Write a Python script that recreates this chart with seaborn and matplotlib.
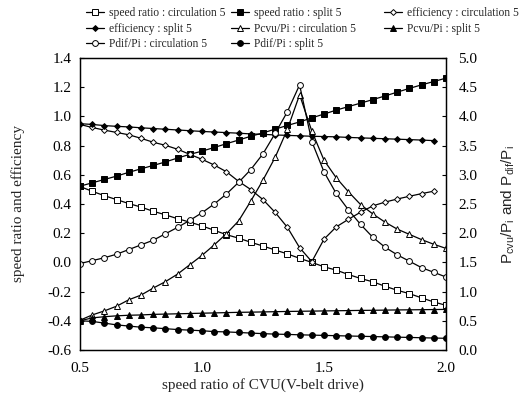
import numpy as np
import pandas as pd
import matplotlib
matplotlib.use("Agg")
import matplotlib.pyplot as plt
import seaborn as sns

# ---------------- data ----------------
speed_ratio_cvu = [0.50, 0.55, 0.60, 0.65, 0.70, 0.75, 0.80, 0.85, 0.90, 0.95,
                   1.00, 1.05, 1.10, 1.15, 1.20, 1.25, 1.30, 1.35, 1.40, 1.45,
                   1.50, 1.55, 1.60, 1.65, 1.70, 1.75, 1.80, 1.85, 1.90, 1.95, 2.00]

sr_circulation = [0.520, 0.487, 0.457, 0.430, 0.403, 0.379, 0.350, 0.326, 0.299, 0.276,
                  0.250, 0.220, 0.190, 0.166, 0.138, 0.112, 0.085, 0.058, 0.028, 0.000,
                  -0.030, -0.053, -0.083, -0.110, -0.133, -0.163, -0.191, -0.214, -0.243, -0.271, -0.294]

sr_split = [0.522, 0.545, 0.568, 0.591, 0.617, 0.641, 0.664, 0.688, 0.715, 0.740,
            0.762, 0.787, 0.813, 0.838, 0.864, 0.887, 0.913, 0.938, 0.962, 0.990,
            1.016, 1.043, 1.067, 1.091, 1.115, 1.140, 1.166, 1.192, 1.216, 1.239, 1.262]

eff_circulation = [0.945, 0.924, 0.906, 0.890, 0.874, 0.850, 0.823, 0.802, 0.775, 0.740,
                   0.706, 0.667, 0.621, 0.555, 0.499, 0.430, 0.342, 0.240, 0.101, 0.005,
                   0.159, 0.243, 0.295, 0.344, 0.387, 0.413, 0.434, 0.453, 0.471, 0.488]

eff_split = [0.950, 0.945, 0.937, 0.932, 0.928, 0.922, 0.917, 0.912, 0.907, 0.902,
             0.897, 0.893, 0.889, 0.885, 0.880, 0.877, 0.873, 0.870, 0.867, 0.864,
             0.862, 0.860, 0.856, 0.853, 0.850, 0.847, 0.844, 0.841, 0.838, 0.834]

pcvu_circulation = [0.51, 0.60, 0.67, 0.75, 0.86, 0.94, 1.06, 1.17, 1.30, 1.46,
                    1.62, 1.80, 1.99, 2.21, 2.55, 2.91, 3.30, 3.78, 4.37, 3.75,
                    3.25, 2.95, 2.71, 2.49, 2.33, 2.19, 2.07, 1.98, 1.89, 1.81, 1.74]

pcvu_split = [0.50, 0.55, 0.57, 0.585, 0.595, 0.60, 0.61, 0.615, 0.62, 0.625,
              0.63, 0.635, 0.64, 0.645, 0.648, 0.652, 0.656, 0.66, 0.663, 0.666,
              0.669, 0.672, 0.675, 0.678, 0.68, 0.683, 0.686, 0.688, 0.69, 0.693, 0.695]

pdif_circulation = [1.48, 1.53, 1.58, 1.64, 1.72, 1.80, 1.88, 1.99, 2.10, 2.22,
                    2.35, 2.50, 2.67, 2.87, 3.09, 3.36, 3.71, 4.08, 4.54, 3.57,
                    3.05, 2.68, 2.40, 2.15, 1.93, 1.76, 1.63, 1.52, 1.41, 1.33, 1.25]

pdif_split = [0.50, 0.49, 0.46, 0.43, 0.41, 0.39, 0.38, 0.365, 0.35, 0.34,
              0.33, 0.315, 0.31, 0.30, 0.29, 0.28, 0.272, 0.267, 0.26, 0.255,
              0.25, 0.245, 0.24, 0.235, 0.23, 0.225, 0.22, 0.215, 0.21, 0.205, 0.20]

left_ticks = [-0.6, -0.4, -0.2, 0.0, 0.2, 0.4, 0.6, 0.8, 1.0, 1.2, 1.4]
right_ticks = [0.0, 0.5, 1.0, 1.5, 2.0, 2.5, 3.0, 3.5, 4.0, 4.5, 5.0]
x_ticks = [0.5, 1.0, 1.5, 2.0]

# ---------------- style ----------------
sns.set_theme(style="white")
plt.rcParams['font.family'] = ['Liberation Serif', 'DejaVu Serif']
plt.rcParams['mathtext.fontset'] = 'custom'
plt.rcParams['mathtext.rm'] = 'Liberation Sans'

fig = plt.figure(figsize=(5.26, 4.03), dpi=100)
ax = fig.add_axes([80/526, 1-350/403, 366/526, 292/403])
ax2 = ax.twinx()

lw = 0.9
common = dict(color='black', linewidth=lw, markeredgecolor='black', markeredgewidth=0.7)

def draw(axis, xs, ys, label, marker, ms, filled):
    sns.lineplot(x=xs, y=ys, ax=axis, marker=marker, markersize=ms,
                 markerfacecolor=('black' if filled else 'white'),
                 label=label, legend=False, **common)

draw(ax, speed_ratio_cvu, sr_circulation, 'speed ratio : circulation 5', 's', 4.2, False)
draw(ax, speed_ratio_cvu, sr_split, 'speed ratio : split 5', 's', 4.2, True)
draw(ax, speed_ratio_cvu[:len(eff_circulation)], eff_circulation, 'efficiency : circulation 5', 'D', 3.0, False)
draw(ax, speed_ratio_cvu[:len(eff_split)], eff_split, 'efficiency : split 5', 'D', 3.0, True)
draw(ax2, speed_ratio_cvu, pcvu_circulation, 'Pcvu/Pi : circulation 5', '^', 4.2, False)
draw(ax2, speed_ratio_cvu, pcvu_split, 'Pcvu/Pi : split 5', '^', 4.2, True)
draw(ax2, speed_ratio_cvu, pdif_circulation, 'Pdif/Pi : circulation 5', 'o', 4.2, False)
draw(ax2, speed_ratio_cvu, pdif_split, 'Pdif/Pi : split 5', 'o', 4.2, True)

ax.set_xlim(0.5, 2.0)
ax.set_ylim(-0.6, 1.4)
ax2.set_ylim(0.0, 5.0)
ax.set_xticks(x_ticks)
ax.set_xticklabels([f"{t:.1f}" for t in x_ticks])
ax.set_yticks(left_ticks)
ax.set_yticklabels([f"{t:.1f}" for t in left_ticks])
ax2.set_yticks(right_ticks)
ax2.set_yticklabels([f"{t:.1f}" for t in right_ticks])

for a in (ax, ax2):
    for s in a.spines.values():
        s.set_color('black')
        s.set_linewidth(0.9)
    a.tick_params(direction='in', length=3, width=0.8, colors='black', labelsize=11)
    a.grid(False)
ax.tick_params(axis='x', pad=9)
ax.tick_params(axis='y', pad=6)
ax2.tick_params(axis='y', pad=9)

ax.set_xlabel('speed ratio of CVU(V-belt drive)', fontsize=11, labelpad=2)
ax.set_ylabel('speed ratio and efficiency', fontsize=11, labelpad=16)
ax2.set_ylabel(r'P$_{\rm cvu}$/P$_{\rm i}$ and P$_{\rm dif}$/P$_{\rm i}$',
               fontsize=11, labelpad=16, family='Liberation Sans')

h1, l1 = ax.get_legend_handles_labels()
h2, l2 = ax2.get_legend_handles_labels()
H = h1 + h2
L = l1 + l2
columns = [[0, 3, 6], [1, 4, 7], [2, 5]]
col_x = [86/526, 231/526, 384/526]
for idx, cx in zip(columns, col_x):
    leg = fig.legend([H[i] for i in idx], [L[i] for i in idx],
                     loc='upper left', bbox_to_anchor=(cx, 1 - 7/403),
                     frameon=False, fontsize=8.3, handlelength=1.6,
                     handletextpad=0.4, labelspacing=0.32,
                     borderaxespad=0.0, borderpad=0.0)

fig.savefig('out.png', dpi=100)
